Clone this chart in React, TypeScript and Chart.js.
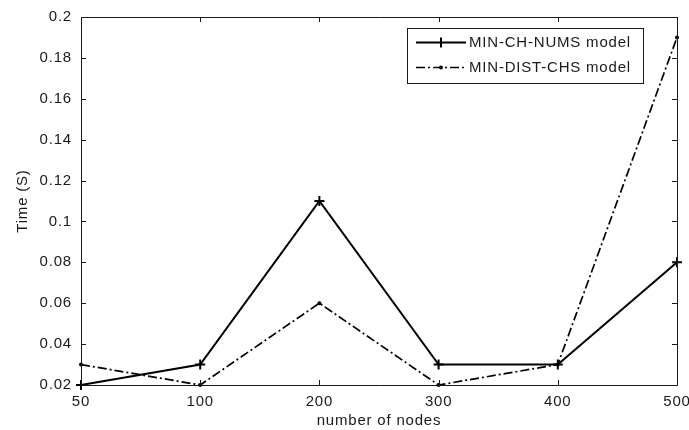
import React, { useEffect, useRef } from "react";
import { Chart, registerables } from "chart.js";

Chart.register(...registerables);

const categories = ["50", "100", "200", "300", "400", "500"];
const minChNums = [0.02, 0.03, 0.11, 0.03, 0.03, 0.08];
const minDistChs = [0.03, 0.02, 0.06, 0.02, 0.03, 0.19];
const yTickValues = [0.02, 0.04, 0.06, 0.08, 0.1, 0.12, 0.14, 0.16, 0.18, 0.2];
const seriesLabels = ["MIN-CH-NUMS model", "MIN-DIST-CHS model"];

const FONT = "'Liberation Sans', Arial, sans-serif";
const INK = "#1a1a1a";
const SPACING = "0.8px";

const framePlugin = {
  id: "matlabFrame",
  beforeLayout(chart: any) {
    (chart.ctx as any).letterSpacing = SPACING;
  },
  beforeDraw(chart: any) {
    (chart.ctx as any).letterSpacing = SPACING;
  },
  afterDatasetsDraw(chart: any) {
    const { ctx, chartArea: a, scales } = chart;
    ctx.save();
    ctx.strokeStyle = INK;
    ctx.lineWidth = 1;
    ctx.setLineDash([]);
    ctx.beginPath();
    ctx.rect(Math.round(a.left) + 0.5, Math.round(a.top) + 0.5, Math.round(a.right - a.left), Math.round(a.bottom - a.top));
    ctx.stroke();
    const tl = 5;
    ctx.beginPath();
    scales.x.ticks.forEach((_t: any, i: number) => {
      const x = Math.round(scales.x.getPixelForTick(i)) + 0.5;
      ctx.moveTo(x, a.bottom);
      ctx.lineTo(x, a.bottom - tl);
      ctx.moveTo(x, a.top);
      ctx.lineTo(x, a.top + tl);
    });
    scales.y.ticks.forEach((t: any) => {
      const y = Math.round(scales.y.getPixelForValue(t.value)) + 0.5;
      ctx.moveTo(a.left, y);
      ctx.lineTo(a.left + tl, y);
      ctx.moveTo(a.right, y);
      ctx.lineTo(a.right - tl, y);
    });
    ctx.stroke();
    ctx.restore();
  },
  afterDraw(chart: any) {
    const { ctx, chartArea: a } = chart;
    const bx = a.right - 34;
    const bw = 236;
    const left = bx - bw;
    const top = a.top + 11;
    const h = 55;
    ctx.save();
    ctx.fillStyle = "#fff";
    ctx.fillRect(left, top, bw, h);
    ctx.strokeStyle = INK;
    ctx.lineWidth = 1;
    ctx.strokeRect(Math.round(left) + 0.5, Math.round(top) + 0.5, bw, h);
    chart.data.datasets.forEach((ds: any, i: number) => {
      const y = top + 14.5 + i * 25;
      const x0 = left + 9;
      const x1 = left + 59;
      ctx.strokeStyle = ds.borderColor;
      ctx.lineWidth = ds.borderWidth;
      ctx.setLineDash(ds.borderDash || []);
      ctx.beginPath();
      ctx.moveTo(x0, y);
      ctx.lineTo(x1, y);
      ctx.stroke();
      ctx.setLineDash([]);
      const mx = (x0 + x1) / 2;
      if (ds.pointStyle === "cross") {
        ctx.lineWidth = ds.pointBorderWidth;
        ctx.beginPath();
        ctx.moveTo(mx, y - ds.pointRadius);
        ctx.lineTo(mx, y + ds.pointRadius);
        ctx.stroke();
      } else {
        ctx.fillStyle = ds.pointBackgroundColor;
        ctx.beginPath();
        ctx.arc(mx, y, ds.pointRadius, 0, Math.PI * 2);
        ctx.fill();
      }
      ctx.fillStyle = INK;
      ctx.font = `15px ${FONT}`;
      (ctx as any).letterSpacing = SPACING;
      ctx.textBaseline = "middle";
      ctx.textAlign = "left";
      ctx.fillText(ds.label, left + 62, y + 0.5);
    });
    ctx.restore();
  },
};

export default function App() {
  const ref = useRef<HTMLCanvasElement | null>(null);
  useEffect(() => {
    if (!ref.current) return;
    const chart = new Chart(ref.current, {
      type: "line",
      data: {
        labels: categories,
        datasets: [
          {
            label: seriesLabels[0],
            data: minChNums,
            borderColor: "#000",
            borderWidth: 2,
            pointStyle: "cross",
            pointRadius: 5,
            pointBorderWidth: 2,
            pointBorderColor: "#000",
            pointBackgroundColor: "#000",
            tension: 0,
            clip: 10,
          } as any,
          {
            label: seriesLabels[1],
            data: minDistChs,
            borderColor: "#000",
            borderWidth: 1.7,
            borderDash: [9, 3, 2, 3],
            pointStyle: "circle",
            pointRadius: 2,
            pointBorderWidth: 0,
            pointBorderColor: "#000",
            pointBackgroundColor: "#000",
            tension: 0,
            clip: 10,
          } as any,
        ],
      },
      options: {
        animation: false,
        responsive: false,
        layout: { padding: 0 },
        plugins: { legend: { display: false }, tooltip: { enabled: false } },
        scales: {
          x: {
            type: "category",
            offset: false,
            grid: { display: false, drawTicks: false },
            border: { display: false },
            ticks: { color: INK, font: { family: FONT, size: 15 }, padding: 8, maxRotation: 0, autoSkip: false },
            title: { display: true, text: "number of nodes", color: INK, font: { family: FONT, size: 15 }, padding: { top: 0, bottom: 0 } },
            afterFit: (s: any) => {
              s.height = 45;
              s.paddingLeft = 0;
              s.paddingRight = 12;
            },
          },
          y: {
            type: "linear",
            min: 0.02,
            max: 0.2,
            grid: { display: false, drawTicks: false },
            border: { display: false },
            afterBuildTicks: (s: any) => {
              s.ticks = yTickValues.map((v) => ({ value: v }));
            },
            ticks: {
              color: INK,
              font: { family: FONT, size: 15 },
              padding: 9,
              callback: (v: any) => String(Math.round(Number(v) * 100) / 100),
            },
            title: { display: true, text: "Time (S)", color: INK, font: { family: FONT, size: 15 }, padding: { top: 14, bottom: 0 } },
            afterFit: (s: any) => {
              s.width = 81;
              s.paddingTop = 17;
              s.paddingBottom = 0;
            },
          },
        },
      },
      plugins: [framePlugin],
    });
    return () => chart.destroy();
  }, []);
  return (
    <div style={{ position: "absolute", left: 0, top: 0, width: 689, height: 430, background: "#fff" }}>
      <canvas ref={ref} width={689} height={430} style={{ display: "block" }} />
    </div>
  );
}
